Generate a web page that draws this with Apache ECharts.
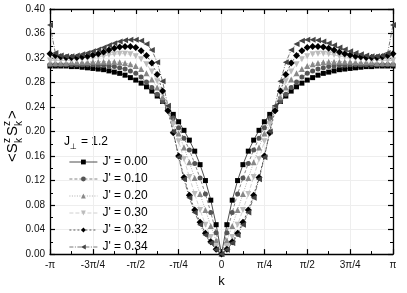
<!DOCTYPE html>
<html><head><meta charset="utf-8">
<script src="https://cdn.jsdelivr.net/npm/echarts@6/dist/echarts.min.js"></script>
<style>html,body{margin:0;padding:0;background:#fff}#c{width:407px;height:293px}</style>
</head><body><div id="c"></div>
<script>
// k in units of pi, tick labels
const xTickLabels = ['-\u03c0','-3\u03c0/4','-\u03c0/2','-\u03c0/4','0','\u03c0/4','\u03c0/2','3\u03c0/4','\u03c0'];
const seriesNames = ["J' = 0.00","J' = 0.10","J' = 0.20","J' = 0.30","J' = 0.32","J' = 0.34"];
// sampling grid: k/pi from -1 to 1 in steps of 1/32
const kGrid = [];
for (let i = -32; i <= 32; i++) kGrid.push(i / 32);

const s000 = [0.307,0.307,0.307,0.307,0.306,0.306,0.305,0.304,0.303,0.302,0.301,0.299,0.297,0.295,0.292,0.288,0.284,0.279,0.273,0.266,0.258,0.249,0.239,0.228,0.216,0.202,0.186,0.168,0.146,0.120,0.088,0.048,
  0,
  0.048,0.088,0.120,0.146,0.168,0.186,0.202,0.216,0.228,0.239,0.249,0.258,0.266,0.273,0.279,0.284,0.288,0.292,0.295,0.297,0.299,0.301,0.302,0.303,0.304,0.305,0.306,0.306,0.307,0.307,0.307,0.307];
const s010 = [0.309,0.309,0.309,0.309,0.309,0.309,0.309,0.309,0.309,0.308,0.308,0.307,0.306,0.304,0.302,0.299,0.295,0.289,0.281,0.272,0.261,0.249,0.236,0.222,0.206,0.189,0.170,0.148,0.124,0.098,0.068,0.035,
  0,
  0.035,0.068,0.098,0.124,0.148,0.170,0.189,0.206,0.222,0.236,0.249,0.261,0.272,0.281,0.289,0.295,0.299,0.302,0.304,0.306,0.307,0.308,0.308,0.309,0.309,0.309,0.309,0.309,0.309,0.309,0.309,0.309];
const s020 = [0.312,0.312,0.312,0.312,0.313,0.313,0.313,0.313,0.314,0.314,0.314,0.314,0.314,0.313,0.312,0.310,0.307,0.302,0.295,0.285,0.272,0.256,0.238,0.218,0.197,0.174,0.150,0.124,0.098,0.072,0.046,0.022,
  0,
  0.022,0.046,0.072,0.098,0.124,0.150,0.174,0.197,0.218,0.238,0.256,0.272,0.285,0.295,0.302,0.307,0.310,0.312,0.313,0.314,0.314,0.314,0.314,0.314,0.313,0.313,0.313,0.313,0.312,0.312,0.312,0.312];
const s030 = [0.316,0.316,0.316,0.316,0.316,0.317,0.318,0.319,0.320,0.322,0.323,0.325,0.326,0.327,0.327,0.326,0.323,0.318,0.310,0.298,0.282,0.262,0.238,0.212,0.184,0.155,0.126,0.098,0.072,0.048,0.028,0.012,
  0,
  0.012,0.028,0.048,0.072,0.098,0.126,0.155,0.184,0.212,0.238,0.262,0.282,0.298,0.310,0.318,0.323,0.326,0.327,0.327,0.326,0.325,0.323,0.322,0.320,0.319,0.318,0.317,0.316,0.316,0.316,0.316,0.316];
const s032 = [0.327,0.324,0.322,0.321,0.321,0.321,0.322,0.323,0.325,0.327,0.330,0.333,0.336,0.338,0.339,0.339,0.337,0.332,0.324,0.312,0.293,0.266,0.234,0.198,0.160,0.125,0.096,0.072,0.052,0.034,0.020,0.008,
  0,
  0.008,0.020,0.034,0.052,0.072,0.096,0.125,0.160,0.198,0.234,0.266,0.293,0.312,0.324,0.332,0.337,0.339,0.339,0.338,0.336,0.333,0.330,0.327,0.325,0.323,0.322,0.321,0.321,0.321,0.322,0.324,0.327];
const s034 = [0.374,0.328,0.324,0.323,0.323,0.324,0.326,0.328,0.331,0.334,0.337,0.341,0.344,0.347,0.349,0.350,0.350,0.348,0.343,0.333,0.313,0.282,0.242,0.200,0.158,0.122,0.092,0.068,0.048,0.031,0.018,0.007,
  0,
  0.007,0.018,0.031,0.048,0.068,0.092,0.122,0.158,0.200,0.242,0.282,0.313,0.333,0.343,0.348,0.350,0.350,0.349,0.347,0.344,0.341,0.337,0.334,0.331,0.328,0.326,0.324,0.323,0.323,0.324,0.328,0.374];
const allValues = [s000, s010, s020, s030, s032, s034];

const styles = [
  {symbol:'rect', size:5, color:'#000', line:'#222', type:'solid', rot:0},
  {symbol:'circle', size:5, color:'#555', line:'#666', type:[3,2], rot:0},
  {symbol:'triangle', size:6, color:'#888', line:'#999', type:[1,1.5], rot:0},
  {symbol:'triangle', size:6, color:'#bcbcbc', line:'#c4c4c4', type:[4,2], rot:180},
  {symbol:'diamond', size:7, color:'#000', line:'#333', type:[2,2], rot:0},
  {symbol:'triangle', size:6, color:'#444', line:'#555', type:[4,1.5,1,1.5], rot:90}
];

const FONT = 'Liberation Sans';
const series = allValues.map((vals, si) => ({
  name: seriesNames[si],
  type: 'line',
  data: vals.map((v, i) => [kGrid[i], v]),
  symbol: styles[si].symbol,
  symbolSize: styles[si].size,
  symbolRotate: styles[si].rot,
  itemStyle: {color: styles[si].color},
  lineStyle: {color: styles[si].line, width: 0.8, type: styles[si].type},
  emphasis: {disabled: true},
  animation: false,
  clip: false
}));

const axisCommon = {
  axisLine: {show: true, onZero: false, lineStyle: {color: '#000', width: 1.3}},
  axisTick: {show: true, inside: true, length: 5, lineStyle: {color: '#000', width: 1.2}},
  minorTick: {show: true, splitNumber: 2, length: 3, lineStyle: {color: '#000', width: 1}},
};

const chart = echarts.init(document.getElementById('c'));
chart.setOption({
  animation: false,
  backgroundColor: '#fff',
  grid: {left: 50, right: 14, top: 9, bottom: 34},
  xAxis: [
    Object.assign({
      type: 'value', min: -1, max: 1, interval: 0.25,
      name: 'k', nameLocation: 'middle', nameGap: 20,
      nameTextStyle: {fontFamily: FONT, fontSize: 13, color: '#000'},
      axisLabel: {fontFamily: FONT, fontSize: 10, color: '#111', margin: 6,
        formatter: v => xTickLabels[Math.round((v + 1) * 4)]},
      splitLine: {show: true, lineStyle: {color: '#eeeeee', width: 1}}
    }, axisCommon),
    Object.assign({
      type: 'value', min: -1, max: 1, interval: 0.25, position: 'top',
      axisLabel: {show: false}, splitLine: {show: false}
    }, axisCommon)
  ],
  yAxis: [
    Object.assign({
      type: 'value', min: 0, max: 0.4, interval: 0.04,
      axisLabel: {fontFamily: FONT, fontSize: 10, color: '#111', margin: 5,
        formatter: v => v.toFixed(2)},
      splitLine: {show: true, lineStyle: {color: '#eeeeee', width: 1}}
    }, axisCommon),
    Object.assign({
      type: 'value', min: 0, max: 0.4, interval: 0.04, position: 'right',
      axisLabel: {show: false}, splitLine: {show: false}
    }, axisCommon)
  ],
  legend: {
    orient: 'vertical', left: 64, top: 151,
    itemWidth: 28, itemHeight: 6, itemGap: 5,
    lineStyle: {width: 0.8},
    textStyle: {fontFamily: FONT, fontSize: 12, color: '#000', lineHeight: 10},
    data: seriesNames,
    selectedMode: false
  },
  graphic: [
    {type: 'group', x: 13, y: 131, rotation: Math.PI / 2, children: [
      {type: 'text', x: -31, y: 0, style: {text: '<S', font: '15px "Liberation Sans"', fill: '#000', verticalAlign: 'middle'}},
      {type: 'text', x: -12, y: -6, style: {text: 'z', font: '10px "Liberation Sans"', fill: '#000', verticalAlign: 'middle'}},
      {type: 'text', x: -12, y: 6, style: {text: 'k', font: '10px "Liberation Sans"', fill: '#000', verticalAlign: 'middle'}},
      {type: 'text', x: -5, y: 0, style: {text: 'S', font: '15px "Liberation Sans"', fill: '#000', verticalAlign: 'middle'}},
      {type: 'text', x: 5, y: -6, style: {text: 'z', font: '10px "Liberation Sans"', fill: '#000', verticalAlign: 'middle'}},
      {type: 'text', x: 5, y: 6, style: {text: 'k', font: '10px "Liberation Sans"', fill: '#000', verticalAlign: 'middle'}},
      {type: 'text', x: 12, y: 0, style: {text: '>', font: '15px "Liberation Sans"', fill: '#000', verticalAlign: 'middle'}}
    ]},
    {type: 'text', left: 64, top: 136, style: {text: 'J', font: '12px "Liberation Sans"', fill: '#000'}},
    {type: 'text', left: 70, top: 143, style: {text: '\u22a5', font: '8px "DejaVu Sans"', fill: '#000'}},
    {type: 'text', left: 81, top: 136, style: {text: '= 1.2', font: '12px "Liberation Sans"', fill: '#000'}}
  ],
  series: series
});
</script></body></html>
